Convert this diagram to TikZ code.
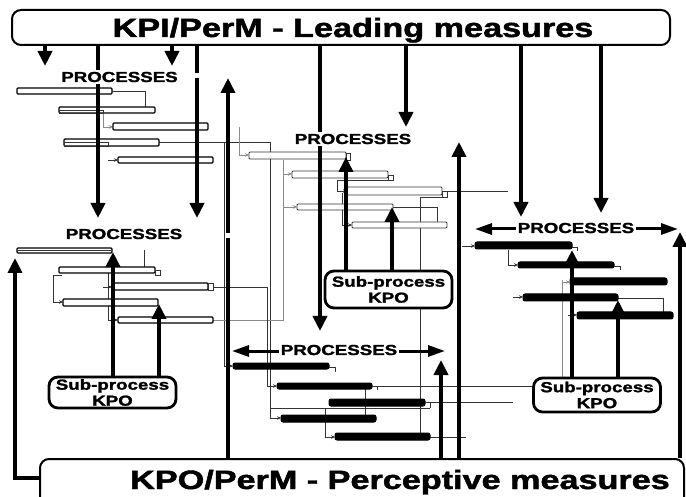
\documentclass[tikz,border=0pt]{standalone}
\usepackage{fontspec}
\setmainfont{Liberation Sans}[BoldFeatures={FakeBold=1.5}]
\usepackage{graphicx}
\usetikzlibrary{arrows.meta}
\newcommand{\wtxt}[1]{\scalebox{1.29}[1]{#1}}
\begin{document}
\begin{tikzpicture}[x=1pt,y=-1pt,
  thickarr/.style={line width=4pt,-{Triangle[width=14pt,length=15pt]}},
  thickln/.style={line width=4pt},
  dblarr/.style={line width=3pt,{Triangle[width=11pt,length=17pt]}-{Triangle[width=11pt,length=17pt]}},
  mbox/.style={draw,line width=2pt,rounded corners=9pt,fill=white,inner sep=0pt},
  subbox/.style={draw,line width=2.8pt,rounded corners=9pt,fill=white,minimum width=127pt,minimum height=31pt,inner sep=0pt,align=center,font=\fontsize{14.5}{16}\selectfont\bfseries},
  proc/.style={fill=white,inner sep=1.5pt,anchor=base,font=\fontsize{14.5}{16}\selectfont\bfseries},
  ttl/.style={anchor=base,inner sep=0pt,font=\fontsize{26.5}{30}\selectfont\bfseries},
  wbar/.style={draw=black,line width=1.1pt,fill=white,rounded corners=1pt},
  gbar/.style={draw=black!80,line width=0.9pt,fill=white,rounded corners=1pt},
  bbar/.style={draw=black,fill=black,line width=1pt,rounded corners=2pt},
  lnk/.style={line width=0.6pt,draw=black!80},
  glnk/.style={line width=0.8pt,draw=black!45},
  lnkarr/.style={-{Stealth[length=4pt,width=3.5pt]}},
]
\useasboundingbox (0,0) rectangle (686,497);
\clip (0,0) rectangle (686,497);

% ---------- thin gantt links ----------
% top-left
\draw[lnk,lnkarr] (112,91) -- (145,91) -- (145,110) -- (153,110);
\draw[glnk,lnkarr] (103,113) -- (103,127) -- (113,127);
\draw[lnk] (159,142) -- (270,142);
\draw[lnk,lnkarr] (270,142) -- (270,418) -- (281,418);
\draw[lnk,lnkarr] (224,142) -- (224,366) -- (233,366);
\draw[lnk,lnkarr] (108,160) -- (118,160);
% middle
\draw[glnk,lnkarr] (239,127) -- (239,155) -- (249,155);
\draw[glnk] (283,160) -- (283,320) -- (213,320);
\draw[glnk,lnkarr] (283,174) -- (292,174);
\draw[glnk,lnkarr] (283,207) -- (297,207);
\draw[lnk,lnkarr] (393,180) -- (337,180) -- (337,191) -- (347,191);
\draw[lnk,lnkarr] (342,193) -- (342,225) -- (352,225);
\draw[lnk,lnkarr] (393,207) -- (437,207) -- (437,225) -- (445,225);
\draw[lnk] (447,191) -- (508,191);
\draw[lnk] (442,197) -- (420,197) -- (420,433);
% left-lower
\draw[lnk,lnkarr] (144,250) -- (144,270) -- (152,270);
\draw[lnk,lnkarr] (62,275) -- (53,275) -- (53,302) -- (63,302);
\draw[lnk,lnkarr] (108,273) -- (108,320) -- (118,320);
\draw[lnk,lnkarr] (103,287) -- (112,287);
\draw[lnk,lnkarr] (213,287) -- (267,287) -- (267,386) -- (277,386);
% bottom-middle
\draw[lnk] (377,386) -- (532,386);
\draw[lnk] (430,402) -- (513,402);
\draw[lnk] (365,389) -- (365,415);
\draw[lnk] (270,408) -- (430,408);
\draw[lnk,lnkarr] (325,408) -- (325,437) -- (335,437);
\draw[lnk] (430,437) -- (466,437);
% right
\draw[lnk,lnkarr] (462,246) -- (475,246);
\draw[lnk,lnkarr] (508,250) -- (508,265) -- (518,265);
\draw[glnk] (562,280) -- (562,378);
\draw[glnk,lnkarr] (562,282) -- (570,282);
\draw[lnk,lnkarr] (513,297) -- (523,297);
\draw[lnk] (618,298) -- (663,298) -- (663,312);
\draw[lnk,lnkarr] (568,315) -- (577,315);

% ---------- gantt bars ----------
% top-left
\draw[wbar] (17,88) rectangle (112,94);
\draw[wbar] (59,107) rectangle (155,113);
\draw[lnk] (59,110) rectangle (103,113);
\draw[wbar] (113,123) rectangle (208,130);
\draw[wbar] (64,139) rectangle (159,146);
\draw[lnk] (64,142) rectangle (108,146);
\draw[wbar] (118,157) rectangle (213,163);
% middle
\draw[gbar] (249,152) rectangle (346,159);
\draw[lnk] (346,153) rectangle (350,160);
\draw[gbar] (292,171) rectangle (388,178);
\draw[lnk] (388,175) rectangle (393,180);
\draw[gbar] (347,187) rectangle (442,195);
\draw[lnk] (442,191) rectangle (447,197);
\draw[gbar] (297,204) rectangle (393,210);
\draw[gbar] (352,222) rectangle (447,228);
% left-lower
\draw[wbar] (17,248) rectangle (112,253);
\draw[lnk] (17,250.5) -- (112,250.5);
\draw[wbar] (59,267) rectangle (155,273);
\draw[lnk] (155,270) rectangle (160,275);
\draw[wbar] (112,283) rectangle (208,290);
\draw[lnk] (208,283) rectangle (213,290);
\draw[wbar] (63,299) rectangle (158,306);
\draw[wbar] (118,317) rectangle (213,323);
% bottom-middle
\draw[bbar] (233,363) rectangle (329,369);
\draw[lnk] (329,367) -- (335,367) -- (335,372);
\draw[bbar] (277,383) rectangle (372,389);
\draw[lnk] (372,386) -- (377,386) -- (377,390);
\draw[bbar] (329,399) rectangle (425,406);
\draw[lnk] (425,402) -- (430,402) -- (430,408);
\draw[bbar] (281,415) rectangle (376,422);
\draw[bbar] (335,433) rectangle (430,440);
% right
\draw[bbar] (475,242) rectangle (572,249);
\draw[lnk] (572,247) -- (577,247) -- (577,251);
\draw[bbar] (518,262) rectangle (614,268);
\draw[lnk] (614,266) -- (620,266) -- (620,270);
\draw[bbar] (570,278) rectangle (667,285);
\draw[bbar] (523,294) rectangle (618,301);
\draw[bbar] (577,312) rectangle (673,319);

% ---------- main boxes ----------
\node[mbox,minimum width=658pt,minimum height=35pt] (top) at (341,27.5) {};
\node[ttl] (toptxt) at (353,37) {\wtxt{KPI/PerM - Leading measures}};
\node[mbox,minimum width=644pt,minimum height=52pt] (bot) at (362,485) {};
\node[ttl] (bottxt) at (400,489) {\wtxt{KPO/PerM - Perceptive measures}};

\node[subbox] (sp1) at (112.5,392.5) {\wtxt{Sub-process}\\\wtxt{KPO}};
\node[subbox,minimum height=37pt] (sp2) at (388.5,289.5) {\wtxt{Sub-process}\\\wtxt{KPO}};
\node[subbox,minimum height=34pt] (sp3) at (597,395) {\wtxt{Sub-process}\\\wtxt{KPO}};

% ---------- thick arrows from the leading measures ----------
\draw[thickarr] (45,0 |- top.south) -- (45,66);
\draw[thickarr] (98,0 |- top.south) -- (98,218);
\draw[thickarr] (172,0 |- top.south) -- (172,66);
\draw[thickln] (197,0 |- top.south) -- (197,73);
\draw[thickarr] (197,78) -- (197,218);
\draw[thickarr] (320,0 |- top.south) -- (320,331);
\draw[thickarr] (406,0 |- top.south) -- (406,127);
\draw[thickarr] (521,0 |- top.south) -- (521,217);
\draw[thickarr] (601,0 |- top.south) -- (601,213);

% ---------- thick arrows to the perceptive measures ----------
\draw[thickln] (228,0 |- bot.north) -- (228,238);
\draw[thickarr] (228,233) -- (228,78);
\draw[thickarr] (441,0 |- bot.north) -- (441,360);
\draw[thickarr] (459,0 |- bot.north) -- (459,142);
\draw[thickarr] (680,0 |- bot.north) -- (680,232);
\draw[thickarr] (bot.west |- 0,478) -- (15,478) -- (15,258);

% ---------- sub-process arrows ----------
\draw[thickarr] (113,0 |- sp1.north) -- (113,252);
\draw[thickarr] (159,0 |- sp1.north) -- (159,304);
\draw[thickarr] (346,0 |- sp2.north) -- (346,157);
\draw[thickarr] (392,0 |- sp2.north) -- (392,207);
\draw[thickarr] (572,0 |- sp3.north) -- (572,250);
\draw[thickarr] (618,0 |- sp3.north) -- (618,300);

% ---------- process labels ----------
\draw[dblarr] (475,229) -- (678,229);
\draw[dblarr] (232,351) -- (445,351);
\node[proc] (p1) at (119.5,82) {\wtxt{PROCESSES}};
\node[proc] (p2) at (124,239) {\wtxt{PROCESSES}};
\node[proc] (p3) at (353,144) {\wtxt{PROCESSES}};
\node[proc] (p4) at (576,233) {\wtxt{PROCESSES}};
\node[proc] (p5) at (339,355) {\wtxt{PROCESSES}};
\end{tikzpicture}
\end{document}
